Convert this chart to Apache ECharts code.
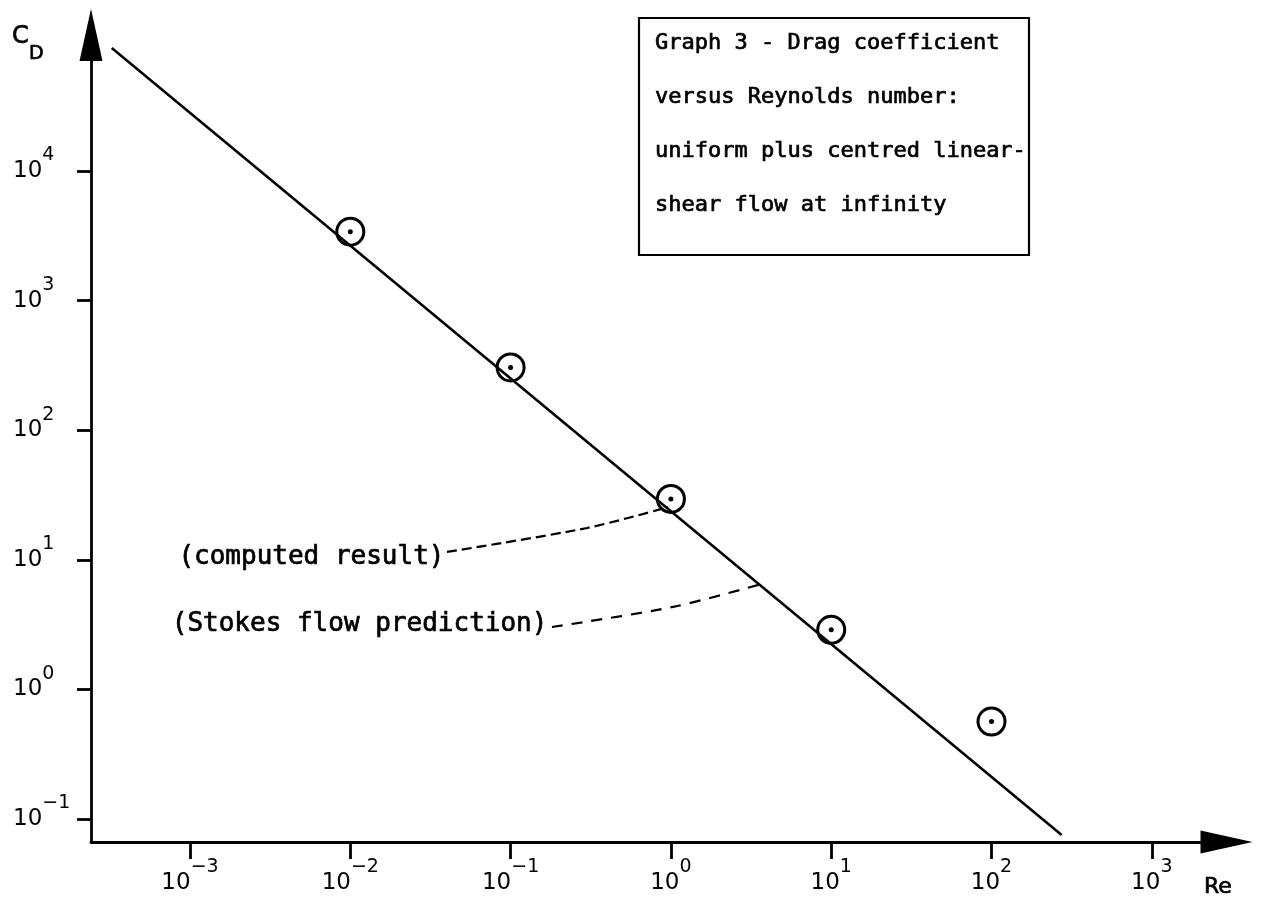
<!DOCTYPE html>
<html><head><meta charset="utf-8">
<script src="https://cdn.jsdelivr.net/npm/echarts@6/dist/echarts.min.js"></script>
<style>html,body{margin:0;padding:0;background:#fff}#c{width:1263px;height:902px}</style>
</head><body><div id="c"></div>
<script>
// ---- data ----
const reValues   = [0.01, 0.1, 1, 10, 100];          // Reynolds numbers of computed points
const cdComputed = [3400, 305, 29.5, 2.88, 0.565];   // computed drag coefficient
const stokesRe   = [3.25e-4, 274];                   // Stokes-flow prediction line ends
const stokesCd   = [89000, 0.0753];
const xTickExps  = [-3, -2, -1, 0, 1, 2, 3];         // 10^n tick labels on Re axis
const yTickExps  = [-1, 0, 1, 2, 3, 4];              // 10^n tick labels on C_D axis
const computedLeaderRe = [0.0401, 0.30, 0.96];
const computedLeaderCd = [11.5, 17.6, 25.5];
const stokesLeaderRe   = [0.181, 1.05, 3.86];
const stokesLeaderCd   = [3.03, 4.35, 6.62];
const titleLines = ['Graph 3 - Drag coefficient', 'versus Reynolds number:', 'uniform plus centred linear-', 'shear flow at infinity'];
const annotationTexts = ['(computed result)', '(Stokes flow prediction)'];

// ---- build ----
const L = Math.log10;
const pairs = (xs, ys) => xs.map((x, i) => [L(x), L(ys[i])]);
const expFmt = v => { const n = Math.round(v); return '{b|10}{s|' + (n < 0 ? '\u2212' + (-n) : n) + '}'; };
const thick = { textBorderColor: '#000', textBorderWidth: 0.7 };
const richLab = {
  b: { fontFamily: 'DejaVu Sans', fontSize: 23, lineHeight: 50, color: '#000', verticalAlign: 'middle' },
  s: { fontFamily: 'DejaVu Sans', fontSize: 19, lineHeight: 19, color: '#000', verticalAlign: 'top' }
};
const axisCommon = {
  type: 'value',
  splitLine: { show: false },
  axisLine: { show: true, onZero: false, lineStyle: { color: '#000', width: 2.8 }, symbol: ['none', 'triangle'], symbolSize: [23, 52] },
};
const mono = 'DejaVu Sans Mono';
const annLabel = (txt, dist, off) => Object.assign({ show: true, position: 'left', distance: dist, offset: off, formatter: txt,
  fontFamily: mono, fontSize: 26, color: '#000' }, thick);
const txtStyle = (text, font) => ({ text, font, fill: '#000', stroke: '#000', lineWidth: 0.7, align: 'left', verticalAlign: 'middle' });

const chart = echarts.init(document.getElementById('c'), null, { renderer: 'canvas' });
const titleGraphics = titleLines.map((t, i) => ({
  type: 'text', x: 655, y: [43, 97, 151, 205][i], style: txtStyle(t, '22px "' + mono + '"')
}));
chart.setOption({
  animation: false,
  backgroundColor: '#fff',
  grid: { left: 91, right: 36.5, top: 35, bottom: 60, containLabel: false, outerBoundsMode: 'none' },
  xAxis: Object.assign({}, axisCommon, {
    min: -3.6176, max: 3.466,
    axisTick: { show: true, inside: false, length: 17, lineStyle: { color: '#000', width: 2.8 }, customValues: xTickExps },
    axisLabel: { show: true, margin: 16, formatter: expFmt, rich: richLab, customValues: xTickExps, verticalAlign: 'top' }
  }),
  yAxis: Object.assign({}, axisCommon, {
    min: -1.1775, max: 5.049,
    axisTick: { show: true, inside: false, length: 14, lineStyle: { color: '#000', width: 2.8 }, customValues: yTickExps },
    axisLabel: { show: true, margin: 78, align: 'left', formatter: expFmt, rich: richLab, customValues: yTickExps }
  }),
  series: [
    { type: 'line', data: pairs(stokesRe, stokesCd), symbol: 'none', lineStyle: { color: '#000', width: 2.6 }, z: 2 },
    { type: 'scatter', data: pairs(reValues, cdComputed), symbol: 'circle', symbolSize: 27,
      itemStyle: { color: 'rgba(255,255,255,0)', borderColor: '#000', borderWidth: 3, opacity: 1 }, z: 3 },
    { type: 'scatter', data: pairs(reValues, cdComputed), symbol: 'circle', symbolSize: 5,
      itemStyle: { color: '#000', opacity: 1 }, z: 4 },
    { type: 'line', symbol: 'circle', symbolSize: 1, showSymbol: true, smooth: 0.3, itemStyle: { color: 'rgba(0,0,0,0)' },
      lineStyle: { color: '#000', width: 2.2, type: [10, 5] },
      data: pairs(computedLeaderRe, computedLeaderCd).map((p, i) => i === 0 ? { value: p, label: annLabel(annotationTexts[0], 2, [0, 5]) } : { value: p }) },
    { type: 'line', symbol: 'circle', symbolSize: 1, showSymbol: true, smooth: 0.3, itemStyle: { color: 'rgba(0,0,0,0)' },
      lineStyle: { color: '#000', width: 2.2, type: [11, 9] },
      data: pairs(stokesLeaderRe, stokesLeaderCd).map((p, i) => i === 0 ? { value: p, label: annLabel(annotationTexts[1], 4, [0, -3]) } : { value: p }) }
  ],
  graphic: [
    { type: 'rect', shape: { x: 639, y: 18, width: 390, height: 237 }, style: { fill: 'none', stroke: '#000', lineWidth: 2.2 } },
    ...titleGraphics,
    { type: 'text', x: 12, y: 37, style: txtStyle('C', '24px "DejaVu Sans"') },
    { type: 'text', x: 29, y: 54, style: txtStyle('D', '19px "DejaVu Sans"') },
    { type: 'text', x: 1204, y: 887, style: txtStyle('Re', '22px "DejaVu Sans"') }
  ]
});
</script></body></html>
